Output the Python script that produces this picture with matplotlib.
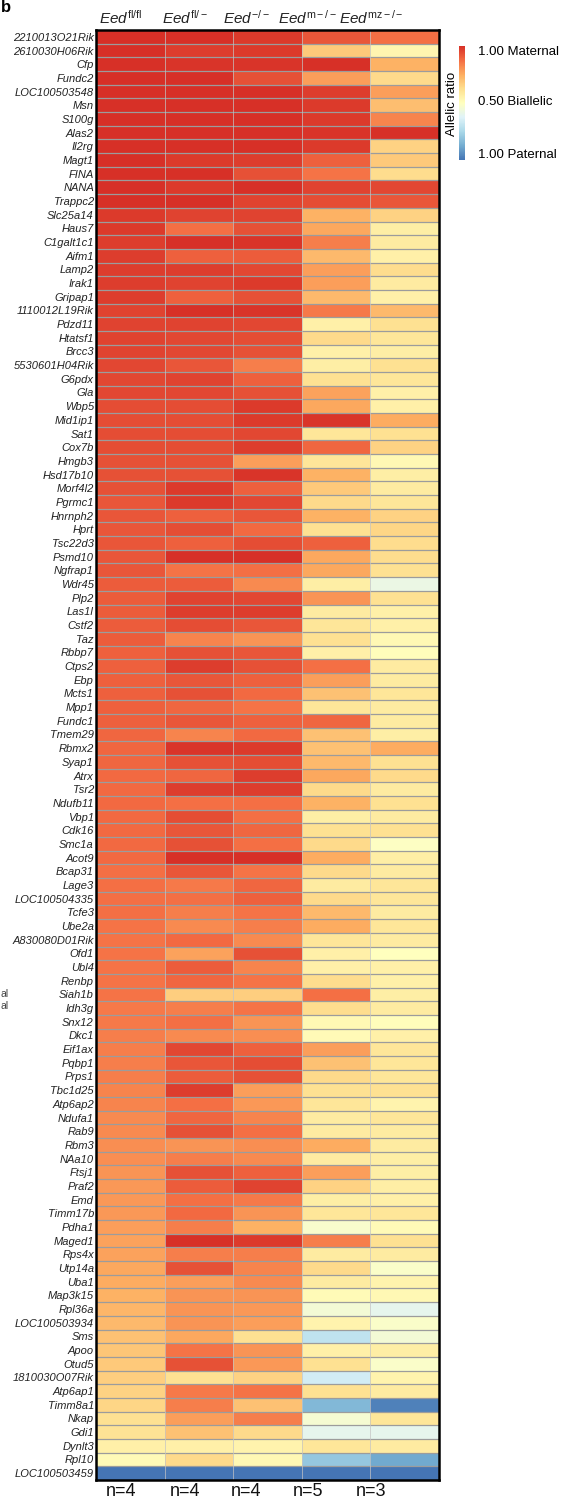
import numpy as np
import matplotlib
matplotlib.use("Agg")
import matplotlib.pyplot as plt
from matplotlib.colors import LinearSegmentedColormap, Normalize
from matplotlib.cm import ScalarMappable

plt.rcParams['font.family'] = ['Liberation Sans', 'DejaVu Sans']
plt.rcParams['mathtext.fontset'] = 'custom'
plt.rcParams['mathtext.it'] = 'Liberation Sans:italic'
plt.rcParams['mathtext.rm'] = 'Liberation Sans'

# ---- data: allelic ratio (1 = maternal, 0.5 = biallelic, 0 = paternal) ----
genes = [
    "2210013O21Rik", "2610030H06Rik", "Cfp", "Fundc2", "LOC100503548", "Msn",
    "S100g", "Alas2", "Il2rg", "Magt1", "FINA", "NANA", "Trappc2", "Slc25a14",
    "Haus7", "C1galt1c1", "Aifm1", "Lamp2", "Irak1", "Gripap1", "1110012L19Rik",
    "Pdzd11", "Htatsf1", "Brcc3", "5530601H04Rik", "G6pdx", "Gla", "Wbp5",
    "Mid1ip1", "Sat1", "Cox7b", "Hmgb3", "Hsd17b10", "Morf4l2", "Pgrmc1",
    "Hnrnph2", "Hprt", "Tsc22d3", "Psmd10", "Ngfrap1", "Wdr45", "Plp2", "Las1l",
    "Cstf2", "Taz", "Rbbp7", "Ctps2", "Ebp", "Mcts1", "Mpp1", "Fundc1", "Tmem29",
    "Rbmx2", "Syap1", "Atrx", "Tsr2", "Ndufb11", "Vbp1", "Cdk16", "Smc1a",
    "Acot9", "Bcap31", "Lage3", "LOC100504335", "Tcfe3", "Ube2a",
    "A830080D01Rik", "Ofd1", "Ubl4", "Renbp", "Siah1b", "Idh3g", "Snx12", "Dkc1",
    "Eif1ax", "Pqbp1", "Prps1", "Tbc1d25", "Atp6ap2", "Ndufa1", "Rab9", "Rbm3",
    "NAa10", "Ftsj1", "Praf2", "Emd", "Timm17b", "Pdha1", "Maged1", "Rps4x",
    "Utp14a", "Uba1", "Map3k15", "Rpl36a", "LOC100503934", "Sms", "Apoo",
    "Otud5", "1810030O07Rik", "Atp6ap1", "Timm8a1", "Nkap", "Gdi1", "Dynlt3",
    "Rpl10", "LOC100503459",
]

eed_fl_fl = [
    1.00, 1.00, 1.00, 1.00, 1.00, 1.00, 1.00, 1.00, 1.00, 1.00, 1.00, 1.00, 1.00, 0.98,
    0.98, 0.97, 0.97, 0.97, 0.97, 0.97, 0.96, 0.96, 0.96, 0.96, 0.95, 0.95, 0.95, 0.94,
    0.94, 0.94, 0.94, 0.93, 0.93, 0.93, 0.92, 0.92, 0.92, 0.92, 0.92, 0.92, 0.91, 0.91,
    0.91, 0.91, 0.91, 0.90, 0.90, 0.90, 0.90, 0.90, 0.90, 0.89, 0.89, 0.89, 0.88, 0.88,
    0.88, 0.88, 0.88, 0.88, 0.88, 0.87, 0.87, 0.87, 0.87, 0.86, 0.86, 0.86, 0.86, 0.86,
    0.86, 0.85, 0.85, 0.84, 0.84, 0.84, 0.84, 0.83, 0.83, 0.82, 0.82, 0.81, 0.81, 0.80,
    0.79, 0.79, 0.79, 0.78, 0.77, 0.77, 0.76, 0.75, 0.74, 0.73, 0.72, 0.70, 0.69, 0.68,
    0.67, 0.66, 0.65, 0.62, 0.61, 0.56, 0.52, 0.00,
]
eed_fl_minus = [
    1.00, 0.97, 0.99, 1.00, 1.00, 1.00, 1.00, 1.00, 1.00, 0.98, 1.00, 0.98, 1.00, 0.96,
    0.87, 1.00, 0.90, 0.97, 0.96, 0.90, 1.00, 0.96, 0.95, 0.95, 0.92, 0.96, 0.95, 0.94,
    0.94, 0.94, 0.94, 0.93, 0.93, 0.98, 0.98, 0.90, 0.94, 0.90, 1.00, 0.86, 0.91, 0.96,
    0.97, 0.94, 0.83, 0.93, 0.97, 0.92, 0.93, 0.89, 0.92, 0.83, 0.99, 0.93, 0.89, 0.97,
    0.87, 0.94, 0.92, 0.93, 1.00, 0.92, 0.85, 0.87, 0.84, 0.82, 0.88, 0.77, 0.91, 0.89,
    0.67, 0.84, 0.87, 0.82, 0.95, 0.92, 0.91, 0.97, 0.87, 0.89, 0.93, 0.80, 0.84, 0.93,
    0.91, 0.87, 0.88, 0.84, 1.00, 0.84, 0.93, 0.78, 0.80, 0.80, 0.80, 0.76, 0.86, 0.93,
    0.62, 0.85, 0.84, 0.78, 0.70, 0.56, 0.64, 0.00,
]
eed_minus_minus = [
    0.98, 0.98, 0.99, 0.93, 1.00, 1.00, 1.00, 1.00, 1.00, 0.97, 0.93, 1.00, 0.96, 0.96,
    0.93, 0.99, 0.91, 0.95, 0.98, 0.93, 0.99, 0.95, 0.94, 0.93, 0.84, 0.90, 0.93, 0.98,
    0.98, 0.95, 0.97, 0.78, 0.99, 0.90, 0.95, 0.92, 0.88, 0.94, 1.00, 0.87, 0.82, 0.95,
    0.97, 0.92, 0.80, 0.92, 0.93, 0.90, 0.88, 0.86, 0.90, 0.88, 0.98, 0.94, 0.97, 0.97,
    0.87, 0.87, 0.89, 0.87, 1.00, 0.86, 0.89, 0.90, 0.86, 0.84, 0.82, 0.93, 0.83, 0.86,
    0.67, 0.86, 0.80, 0.81, 0.90, 0.94, 0.93, 0.78, 0.79, 0.83, 0.87, 0.81, 0.82, 0.90,
    0.96, 0.85, 0.80, 0.74, 0.98, 0.84, 0.83, 0.82, 0.80, 0.79, 0.78, 0.62, 0.80, 0.79,
    0.66, 0.86, 0.70, 0.84, 0.64, 0.55, 0.53, 0.00,
]
eed_m_minus = [
    0.92, 0.68, 1.00, 0.78, 0.97, 0.98, 0.98, 0.99, 0.98, 0.90, 0.86, 0.96, 0.94, 0.74,
    0.76, 0.84, 0.72, 0.78, 0.78, 0.72, 0.85, 0.56, 0.64, 0.56, 0.57, 0.62, 0.77, 0.76,
    0.99, 0.60, 0.89, 0.60, 0.74, 0.68, 0.64, 0.74, 0.62, 0.90, 0.76, 0.76, 0.57, 0.80,
    0.58, 0.60, 0.62, 0.56, 0.87, 0.78, 0.70, 0.60, 0.89, 0.70, 0.70, 0.72, 0.76, 0.64,
    0.74, 0.57, 0.62, 0.64, 0.75, 0.64, 0.58, 0.64, 0.72, 0.75, 0.60, 0.56, 0.56, 0.63,
    0.87, 0.63, 0.53, 0.52, 0.78, 0.70, 0.64, 0.62, 0.60, 0.58, 0.58, 0.75, 0.58, 0.78,
    0.66, 0.57, 0.60, 0.47, 0.84, 0.58, 0.64, 0.58, 0.52, 0.45, 0.55, 0.30, 0.56, 0.62,
    0.34, 0.62, 0.16, 0.46, 0.40, 0.60, 0.20, 0.00,
]
eed_mz_minus = [
    0.87, 0.54, 0.74, 0.64, 0.78, 0.71, 0.83, 1.00, 0.66, 0.68, 0.63, 0.95, 0.92, 0.66,
    0.57, 0.58, 0.56, 0.63, 0.58, 0.56, 0.72, 0.62, 0.60, 0.57, 0.62, 0.60, 0.56, 0.56,
    0.75, 0.62, 0.66, 0.53, 0.57, 0.58, 0.60, 0.66, 0.65, 0.63, 0.63, 0.62, 0.42, 0.62,
    0.56, 0.56, 0.53, 0.51, 0.58, 0.58, 0.60, 0.58, 0.58, 0.57, 0.75, 0.62, 0.64, 0.58,
    0.62, 0.58, 0.62, 0.49, 0.57, 0.58, 0.60, 0.60, 0.58, 0.60, 0.58, 0.50, 0.56, 0.56,
    0.57, 0.58, 0.51, 0.56, 0.60, 0.60, 0.60, 0.62, 0.55, 0.60, 0.58, 0.58, 0.57, 0.57,
    0.57, 0.56, 0.60, 0.52, 0.62, 0.58, 0.48, 0.55, 0.53, 0.40, 0.48, 0.45, 0.57, 0.48,
    0.55, 0.58, 0.03, 0.60, 0.40, 0.58, 0.12, 0.00,
]

genotype_sup = ["fl/fl", "fl/-", "-/-", "m-/-", "mz-/-"]
sample_sizes = [4, 4, 4, 5, 3]

# ---- colour scale ----
cmap = LinearSegmentedColormap.from_list(
    "allelic",
    ["#4575b4", "#74add1", "#abd9e9", "#e0f3f8", "#ffffbf",
     "#fee090", "#fdae61", "#f46d43", "#d73027"],
)

W, H = 570, 1504
fig = plt.figure(figsize=(W / 100, H / 100), dpi=100)

def fx(px):
    return px / W

def fy(py):
    return 1 - py / H

# ---- heatmap ----
left, right, top, bottom = 96, 439, 30, 1480
ax = fig.add_axes([fx(left), fy(bottom), fx(right - left), (bottom - top) / H])
values = np.column_stack([eed_fl_fl, eed_fl_minus, eed_minus_minus,
                          eed_m_minus, eed_mz_minus])
nrow, ncol = values.shape
ax.pcolormesh(np.arange(ncol + 1), np.arange(nrow + 1), values,
              cmap=cmap, vmin=0, vmax=1)
ax.set_xlim(0, ncol)
ax.set_ylim(nrow, 0)
ax.hlines(np.arange(1, nrow), 0, ncol, color="#9c9c9c", lw=0.9)
ax.vlines(np.arange(1, ncol), 0, nrow, color="#c4c4c4", lw=0.5)
for s in ax.spines.values():
    s.set_linewidth(1.8)
    s.set_color("black")
ax.set_xticks([])
ax.set_yticks(np.arange(nrow) + 0.5)
ax.set_yticklabels(genes, fontsize=8, style="italic", color="#222222")
ax.tick_params(axis="y", length=0, pad=1.5)

# ---- column headers and sample sizes ----
header_x = [121, 185, 246, 308, 371]
for x, sup, n in zip(header_x, genotype_sup, sample_sizes):
    fig.text(fx(x), fy(18), r"$\mathit{Eed}^{\mathrm{%s}}$" % sup,
             ha="center", va="center", fontsize=11, color="#222222")
    fig.text(fx(x), fy(1491), f"n={n}", ha="center", va="center",
             fontsize=13, color="#111111")

# ---- colour bar ----
cax = fig.add_axes([fx(459), fy(160), fx(6), (160 - 46) / H])
cb = fig.colorbar(ScalarMappable(norm=Normalize(0, 1), cmap=cmap), cax=cax)
cb.outline.set_visible(False)
cb.set_ticks([])
fig.text(fx(478), fy(52), "1.00 Maternal", ha="left", va="center", fontsize=9.5)
fig.text(fx(478), fy(102), "0.50 Biallelic", ha="left", va="center", fontsize=9.5)
fig.text(fx(478), fy(155), "1.00 Paternal", ha="left", va="center", fontsize=9.5)
fig.text(fx(452), fy(104), "Allelic ratio", ha="center", va="center",
         rotation=90, fontsize=9.5)

# ---- panel letter and neighbouring legend fragments at the left edge ----
fig.text(fx(0.5), fy(8), "b", ha="left", va="center", fontsize=12,
         fontweight="bold")
fig.text(fx(0.5), fy(994), "al", ha="left", va="center", fontsize=7.5,
         color="#444444")
fig.text(fx(0.5), fy(1006), "al", ha="left", va="center", fontsize=7.5,
         color="#444444")

fig.savefig("out.png", dpi=100)
